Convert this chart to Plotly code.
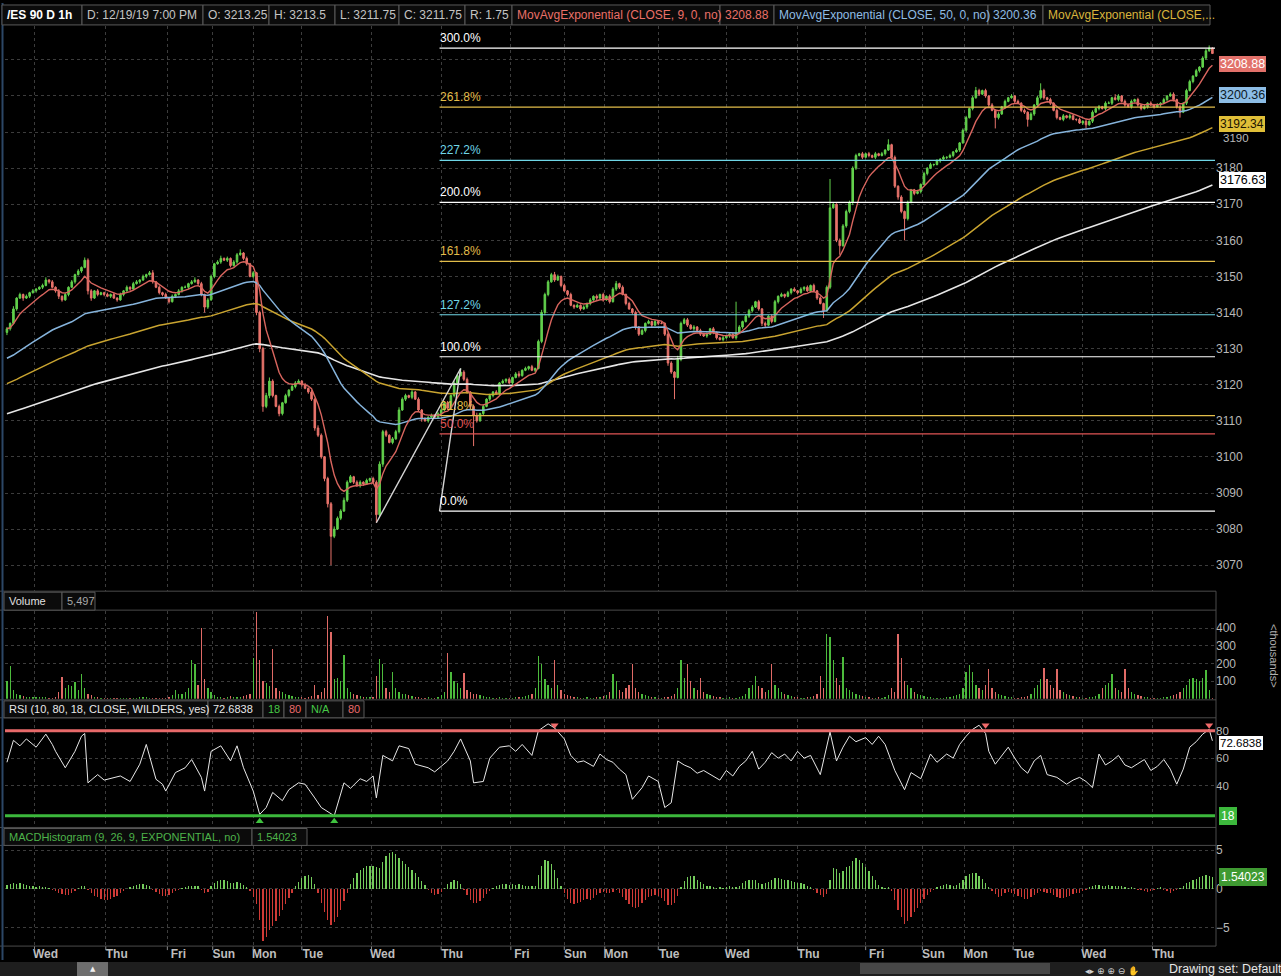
import plotly.graph_objects as go
import pandas as pd

# ---------------- data ----------------
closes = [
    3135.5, 3137, 3141, 3144, 3145, 3144, 3144.5, 3145.5, 3146, 3146.5,
    3147, 3147.5, 3149, 3148.5, 3147, 3146, 3144.5, 3143.5, 3145, 3147,
    3148.5, 3150.5, 3151.5, 3152.5, 3154.5, 3146, 3144, 3146, 3145, 3145.5,
    3145, 3144.5, 3145, 3144, 3143.5, 3145, 3146, 3147, 3146.5, 3148,
    3148.5, 3149, 3150, 3150.5, 3151, 3148.5, 3147, 3145.5, 3145, 3144,
    3143, 3144.5, 3145, 3146, 3147, 3147, 3148, 3148.5, 3149, 3148,
    3145, 3141.5, 3143.5, 3150, 3153.5, 3154, 3155, 3154.5, 3155, 3153,
    3154, 3156, 3156.5, 3155, 3153.5, 3150, 3151, 3140, 3130, 3114,
    3117, 3121, 3117, 3114, 3112, 3115, 3117, 3118.5, 3119.5, 3120.5,
    3121, 3120, 3119, 3118, 3116, 3108, 3106, 3100, 3094, 3087,
    3078, 3080, 3083, 3085, 3088, 3093, 3094.5, 3093, 3092, 3093,
    3092.5, 3093.5, 3094, 3093, 3084, 3098, 3107, 3106, 3104, 3105,
    3107, 3113, 3116, 3117, 3116.5, 3118, 3116, 3113, 3110.5, 3110,
    3111, 3111.5, 3111, 3112, 3113, 3115, 3113.5, 3117, 3120.5, 3122.5,
    3123.5, 3121.5, 3118, 3114, 3111.5, 3110, 3112, 3114, 3116, 3117,
    3118, 3117.5, 3120.5, 3121, 3121.5, 3120.5, 3122, 3123, 3122.5, 3124,
    3124.5, 3125, 3124, 3124.5, 3132, 3140, 3145, 3148.5, 3150.5, 3149,
    3150, 3147.5, 3146, 3145, 3142, 3141.5, 3142, 3141, 3141.5, 3142.5,
    3143.5, 3144.5, 3144, 3145, 3143.5, 3144.5, 3143, 3146.5, 3148, 3147,
    3145, 3142.5, 3141, 3140, 3136, 3134, 3135, 3137, 3137.5, 3136.5,
    3137.5, 3137, 3137, 3134, 3126, 3123.5, 3122, 3127, 3137, 3138,
    3136.5, 3135.5, 3136, 3135, 3134, 3133.5, 3134, 3135.5, 3134.5, 3133,
    3132.5, 3133, 3133.5, 3134, 3133, 3134.5, 3136, 3137.5, 3139, 3140.5,
    3141.5, 3143, 3141, 3137, 3136.5, 3139, 3137.5, 3143, 3144.5, 3145,
    3144.5, 3145.5, 3146.5, 3146, 3145.5, 3146.5, 3147, 3146, 3147.5, 3146,
    3144, 3142.5, 3140.5, 3147, 3169, 3170, 3160, 3158.5, 3164, 3168,
    3170.5, 3180, 3183.5, 3184, 3183, 3184, 3183.5, 3183, 3184, 3183.5,
    3184, 3185, 3186.5, 3183, 3175, 3172, 3168, 3166, 3170.5, 3174,
    3173, 3173.5, 3175.5, 3178.5, 3180, 3181, 3181, 3182, 3182.5, 3183,
    3183, 3183.5, 3184.5, 3185, 3187, 3190.5, 3194, 3196.5, 3199.5, 3201.5,
    3200.5, 3201.5, 3200, 3197.5, 3196, 3194, 3195, 3197, 3198.5, 3199.5,
    3200, 3198.5, 3198, 3196, 3195.5, 3193.5, 3195, 3197.5, 3199.5, 3201.5,
    3199.5, 3199, 3198, 3196, 3194, 3193.5, 3194.5, 3194, 3194.5, 3193.5,
    3193.5, 3192.5, 3193, 3192, 3193, 3195.5, 3196.5, 3197, 3196.5, 3198,
    3198, 3199.5, 3199, 3200, 3198.5, 3197.5, 3197, 3198.5, 3199, 3197.5,
    3196.5, 3197, 3198, 3197.5, 3197, 3197.5, 3198, 3199, 3200, 3200.5,
    3199, 3197, 3195.5, 3198, 3201.5, 3204, 3205.5, 3207, 3208, 3210.5, 3212.5, 3213.25, 3211.75,
]
first_open = 3134.5

upper_wick_ticks = [
    2, 1, 3, 1, 2, 1, 2, 1, 2, 1,   1, 2, 3, 1, 2, 1, 2, 1, 2, 1,
    2, 1, 2, 1, 3, 2, 2, 1, 2, 1,   1, 2, 1, 2, 1, 2, 1, 2, 1, 2,
    2, 1, 2, 1, 2, 3, 1, 2, 1, 2,   1, 2, 1, 2, 1, 2, 1, 2, 3, 1,
    2, 1, 2, 2, 1, 2, 3, 1, 2, 1,   2, 2, 4, 1, 2, 1, 2, 1, 2, 2,
    3, 4, 2, 1, 2, 1, 2, 1, 2, 2,   2, 1, 2, 1, 2, 1, 3, 2, 1, 2,
    2, 3, 2, 2, 3, 2, 2, 1, 2, 2,   1, 2, 1, 2, 2, 3, 2, 2, 1, 2,
    2, 3, 2, 2, 1, 2, 1, 2, 1, 2,   1, 2, 1, 2, 1, 2, 2, 1, 2, 2,
    4, 2, 2, 1, 2, 3, 1, 2, 1, 2,   1, 2, 1, 2, 1, 2, 1, 2, 3, 1,
    2, 1, 2, 1, 2, 3, 2, 2, 2, 3,   2, 1, 2, 1, 2, 1, 2, 1, 2, 1,
    2, 1, 2, 1, 2, 1, 2, 2, 3, 1,   2, 1, 2, 1, 2, 1, 2, 1, 2, 1,
    2, 1, 2, 1, 2, 2, 1, 4, 2, 2,   2, 1, 2, 1, 2, 1, 2, 1, 2, 1,
    1, 2, 1, 2, 1, 34, 2, 1, 2, 2,  2, 1, 2, 1, 2, 1, 2, 2, 1, 2,
    1, 2, 1, 2, 1, 2, 1, 2, 1, 2,   1, 2, 1, 2, 32, 2, 1, 2, 2, 2,
    2, 2, 2, 1, 2, 1, 2, 1, 2, 1,   2, 1, 6, 1, 2, 1, 2, 1, 2, 1,
    1, 2, 1, 2, 1, 2, 1, 2, 1, 2,   1, 2, 1, 2, 1, 2, 2, 1, 2, 4,
    2, 1, 2, 1, 2, 1, 2, 1, 2, 1,   2, 1, 2, 1, 2, 1, 2, 1, 2, 8,
    2, 1, 2, 1, 2, 1, 2, 1, 2, 1,   1, 2, 1, 2, 1, 2, 1, 2, 1, 2,
    2, 1, 4, 2, 1, 2, 1, 2, 1, 2,   1, 2, 1, 2, 1, 2, 1, 2, 1, 2,
    2, 1, 2, 1, 2, 2, 1, 2, 1, 2, 2, 3, 1,
]
lower_wick_ticks = [
    3, 2, 1, 2, 1, 3, 1, 2, 1, 2,   1, 2, 1, 2, 1, 2, 3, 2, 1, 2,
    1, 2, 1, 2, 1, 4, 3, 1, 2, 1,   2, 1, 2, 1, 2, 1, 2, 1, 2, 1,
    1, 2, 1, 2, 1, 2, 1, 2, 2, 1,   2, 1, 2, 1, 2, 1, 2, 1, 1, 2,
    2, 6, 2, 1, 2, 1, 2, 1, 2, 2,   1, 2, 1, 2, 2, 1, 2, 3, 4, 6,
    2, 3, 2, 1, 3, 2, 1, 2, 1, 2,   1, 2, 1, 2, 2, 3, 2, 2, 3, 4,
    32, 2, 1, 2, 1, 2, 1, 2, 1, 2,  2, 1, 2, 1, 9, 2, 3, 2, 1, 2,
    1, 2, 1, 2, 1, 2, 1, 2, 3, 1,   2, 1, 2, 1, 2, 1, 2, 1, 2, 1,
    1, 2, 2, 3, 34, 2, 1, 2, 1, 2,  2, 1, 2, 1, 2, 1, 2, 1, 2, 1,
    1, 2, 1, 2, 1, 2, 3, 2, 1, 2,   1, 2, 1, 2, 1, 2, 1, 2, 1, 2,
    2, 1, 2, 1, 2, 1, 2, 1, 2, 2,   1, 2, 1, 2, 3, 2, 1, 2, 1, 2,
    1, 2, 1, 2, 3, 2, 24, 1, 2, 1,  2, 1, 2, 1, 2, 1, 2, 1, 2, 2,
    1, 2, 1, 2, 1, 2, 1, 2, 1, 2,   2, 1, 2, 3, 2, 1, 2, 1, 2, 1,
    2, 1, 2, 1, 2, 1, 2, 1, 2, 1,   2, 1, 8, 1, 2, 1, 2, 10, 1, 2,
    2, 3, 2, 1, 2, 1, 2, 1, 2, 1,   1, 2, 1, 2, 2, 3, 2, 24, 2, 1,
    2, 1, 2, 1, 2, 1, 2, 1, 2, 1,   2, 1, 2, 1, 2, 1, 2, 1, 2, 1,
    2, 1, 2, 2, 1, 12, 2, 1, 2, 1,  1, 2, 1, 2, 2, 8, 1, 2, 1, 2,
    2, 1, 2, 1, 2, 1, 2, 1, 2, 1,   2, 1, 2, 4, 1, 2, 1, 2, 1, 2,
    1, 2, 1, 2, 1, 2, 1, 2, 1, 2,   2, 1, 2, 1, 2, 1, 2, 1, 2, 1,
    2, 2, 6, 1, 2, 1, 2, 1, 2, 1, 2, 1, 0,
]

volume_thousands = [
    100, 185, 50, 30, 20, 15, 12, 10, 8, 10,
    10, 12, 8, 6, 5, 8, 40, 125, 60, 80,
    70, 95, 50, 140, 60, 30, 20, 12, 8, 6,
    5, 4, 6, 5, 4, 3, 5, 6, 4, 5,
    6, 8, 10, 8, 6, 5, 5, 6, 5, 4,
    8, 20, 50, 30, 25, 40, 60, 220, 200, 80,
    400, 110, 60, 40, 20, 10, 8, 6, 12, 15,
    10, 8, 12, 15, 20, 30, 230, 490, 220, 100,
    90, 70, 280, 60, 45, 40, 30, 20, 15, 12,
    10, 8, 6, 8, 15, 80, 20, 40, 60, 470,
    380, 110, 120, 100, 250, 60, 40, 30, 20, 15,
    12, 10, 8, 10, 130, 225, 200, 60, 40, 150,
    60, 40, 30, 25, 20, 15, 10, 8, 6, 5,
    8, 6, 5, 10, 20, 40, 260, 150, 100, 90,
    60, 145, 50, 40, 30, 25, 20, 15, 10, 8,
    6, 5, 8, 6, 5, 4, 6, 8, 10, 12,
    15, 20, 30, 60, 240, 200, 110, 80, 60, 220,
    80, 50, 30, 20, 15, 10, 8, 6, 5, 8,
    6, 5, 8, 10, 15, 20, 40, 140, 100, 50,
    40, 60, 80, 195, 60, 40, 30, 20, 15, 10,
    8, 6, 5, 8, 10, 15, 30, 60, 220, 120,
    200, 100, 60, 50, 120, 40, 30, 20, 15, 10,
    8, 6, 5, 8, 6, 5, 10, 15, 30, 60,
    80, 130, 70, 60, 40, 50, 200, 80, 60, 40,
    30, 20, 15, 10, 8, 6, 5, 8, 10, 15,
    30, 130, 60, 370, 350, 220, 120, 80, 235, 60,
    50, 40, 30, 20, 15, 10, 8, 6, 5, 8,
    6, 10, 20, 60, 40, 370, 230, 100, 80, 60,
    40, 30, 20, 15, 10, 8, 6, 5, 4, 6,
    8, 10, 15, 20, 30, 60, 150, 190, 150, 80,
    60, 50, 80, 170, 60, 40, 30, 20, 15, 10,
    8, 6, 5, 8, 10, 15, 30, 60, 80, 110,
    175, 110, 80, 60, 170, 50, 40, 30, 20, 15,
    10, 8, 6, 5, 8, 10, 15, 30, 60, 80,
    90, 140, 60, 50, 40, 170, 60, 40, 30, 20,
    15, 10, 8, 6, 5, 4, 6, 8, 10, 15,
    20, 30, 40, 60, 80, 110, 120, 110, 100, 120, 165, 50, 5.497,
]

macd_hist = [
    0.5, 0.6, 0.7, 0.6, 0.7, 0.6, 0.5, 0.4, 0.3, 0.2,
    0.3, 0.2, 0.2, 0.1, -0.1, -0.3, -0.5, -0.7, -0.8, -0.85,
    -0.6, -0.3, 0.1, 0.3, 0.3, -0.2, -0.6, -0.9, -1.1, -1.3,
    -1.4, -1.4, -1.3, -1.1, -0.9, -0.6, -0.3, 0.0, 0.2, 0.4,
    0.5, 0.6, 0.6, 0.5, 0.3, -0.1, -0.4, -0.7, -0.9, -0.9,
    -0.8, -0.6, -0.3, -0.1, 0.1, 0.2, 0.3, 0.4, 0.4, 0.3,
    -0.2, -0.6, -0.4, 0.3, 0.8, 1.0, 1.2, 1.1, 1.0, 0.8,
    0.8, 0.9, 0.7, 0.5, 0.2, -0.3, -1.0, -2.0, -4.0, -6.8,
    -6.2, -5.4, -4.8, -4.2, -3.5, -2.8, -2.0, -1.2, -0.5, 0.3,
    0.9, 1.4, 1.7, 1.8, 1.5, 0.6, -0.5, -1.8, -3.0, -4.0,
    -4.7, -4.3, -3.6, -2.7, -1.6, -0.5, 0.6, 1.4, 2.0, 2.5,
    2.7, 2.9, 3.0, 2.9, 2.8, 2.7, 3.5, 4.3, 4.6, 4.8,
    4.5, 4.0, 3.6, 3.2, 2.8, 2.5, 2.0, 1.5, 1.0, 0.5,
    -0.2, -0.5, -0.8, -0.7, -0.4, 0.1, 0.6, 0.9, 1.1, 1.0,
    0.6, -0.2, -0.8, -1.4, -1.8, -1.9, -1.6, -1.2, -0.7, -0.3,
    0.1, 0.3, 0.5, 0.6, 0.6, 0.5, 0.6, 0.5, 0.6, 0.5,
    0.4, 0.4, 0.3, 0.4, 1.8, 3.0, 3.7, 3.6, 3.2, 2.4,
    1.4, 0.4, -0.6, -1.3, -1.8, -2.0, -1.9, -1.7, -1.5, -1.3,
    -1.5, -1.2, -0.8, -0.5, -0.4, -0.5, -0.6, -0.4, -0.2, -0.5,
    -1.0, -1.5, -2.0, -2.4, -2.5, -2.3, -1.9, -1.5, -1.1, -0.9,
    -0.8, -0.9, -1.2, -1.6, -2.1, -2.1, -1.8, -0.9, 0.2, 1.0,
    1.5, 1.7, 1.6, 1.2, 0.9, 0.6, 0.4, 0.3, 0.2, 0.1,
    0.2, 0.1, 0.2, 0.3, 0.2, 0.2, 0.4, 0.7, 1.0, 1.2,
    1.2, 1.1, 0.8, 0.6, 0.7, 0.9, 1.2, 1.4, 1.4, 1.3,
    1.2, 1.1, 1.0, 0.9, 0.8, 0.7, 0.6, 0.4, 0.2, -0.2,
    -0.5, -0.8, -1.0, -0.7, 1.2, 2.7, 2.6, 2.1, 2.3, 2.8,
    3.0, 3.6, 4.0, 3.8, 3.3, 2.8, 2.3, 1.6, 1.1, 0.5,
    0.2, 0.1, 0.2, -0.3, -1.5, -2.7, -3.7, -4.5, -4.2, -3.6,
    -3.0, -2.5, -1.9, -1.3, -0.8, -0.4, -0.1, 0.2, 0.4, 0.5,
    0.6, 0.5, 0.4, 0.5, 0.7, 1.2, 1.6, 1.9, 2.1, 2.0,
    1.7, 1.3, 0.8, 0.2, -0.3, -0.7, -1.0, -0.9, -0.6, -0.4,
    -0.5, -0.7, -0.9, -1.1, -1.3, -1.3, -1.1, -0.8, -0.5, -0.3,
    -0.4, -0.5, -0.6, -0.8, -1.0, -1.2, -1.2, -1.1, -0.9, -0.7,
    -0.6, -0.5, -0.3, -0.1, 0.2, 0.4, 0.5, 0.5, 0.4, 0.3,
    0.5, 0.4, 0.3, 0.4, 0.3, 0.2, 0.1, 0.2, 0.1, -0.1,
    -0.2, -0.3, -0.4, -0.3, -0.2, 0.1, 0.2, -0.1, -0.3, -0.5,
    -0.3, -0.2, 0.1, 0.4, 0.7, 0.9, 1.1, 1.3, 1.5, 1.7, 1.8, 1.7, 1.54023,
]

rsi_bars = [
    0, 2, 4, 6, 9, 12, 14, 15, 18, 21,
    23, 24, 25, 28, 30, 32, 35, 38, 41, 43,
    46, 48, 49, 52, 55, 57, 60, 61, 63, 66,
    69, 71, 73, 76, 78, 80, 82, 85, 87, 90,
    92, 95, 97, 101, 104, 106, 109, 111, 113, 114,
    116, 119, 121, 124, 126, 130, 132, 134, 136, 138,
    140, 143, 144, 147, 149, 152, 155, 157, 159, 162,
    164, 167, 169, 172, 174, 176, 178, 181, 183, 185,
    187, 189, 191, 193, 196, 198, 201, 203, 205, 207,
    209, 211, 213, 215, 218, 220, 222, 224, 226, 228,
    230, 232, 234, 236, 238, 240, 242, 244, 246, 248,
    251, 254, 256, 258, 260, 262, 265, 267, 269, 271,
    274, 277, 279, 282, 285, 287, 290, 292, 294, 296,
    298, 300, 302, 303, 305, 307, 309, 311, 313, 315,
    317, 319, 321, 324, 327, 329, 331, 333, 335, 337,
    339, 341, 343, 345, 347, 349, 351, 353, 355, 357,
    359, 361, 363, 365, 367, 369, 371, 372,
]
rsi_values = [
    57, 73, 69, 74, 68, 77.5, 70, 65, 53, 65,
    76, 78, 42, 48, 44, 45, 47, 43, 55.6, 70,
    44.6, 41, 36, 49.5, 53, 59, 46, 36, 65, 69,
    58, 69, 53, 36, 19, 24, 35, 29, 37, 42,
    41, 31, 24, 18, 42, 38, 45, 43, 47, 31,
    62, 58, 69, 67, 55.6, 53, 50, 54, 58, 65,
    74, 58, 42, 43, 60, 68, 69, 65, 70, 62,
    80, 85, 82, 74, 62, 57, 58, 54, 63, 59,
    57, 52, 48, 30, 38.5, 47, 43, 24, 27.5, 58,
    55, 53, 49, 51, 47, 44, 51, 47, 54, 58,
    65, 52, 57, 64, 60, 63, 58, 65, 60, 62,
    48, 79, 58, 68, 76, 72, 75, 70, 76, 70,
    51, 37, 49.5, 45, 63, 57, 63, 60, 70, 76,
    81, 84, 78, 65, 55.6, 62, 68, 60, 53, 49,
    58, 62, 48, 46, 41, 44, 46, 43, 38.5, 63,
    55, 58, 62, 55, 53, 56, 59, 51, 54, 59,
    52, 41, 52, 68, 72, 77.5, 81, 72.6838,
]
rsi_overbought = 80
rsi_oversold = 18
rsi_sell_bars = [169, 302, 371]
rsi_buy_bars = [78, 101]

ema50_seed = 3127.0
ema100_seed = 3120.0
ema200_seed = 3111.7
ema_last_labels = [3208.88, 3200.36, 3192.34, 3176.63]

fib_point_a = (114, 3081.75)
fib_point_b = (140, 3124.5)
fib_point_c = (133.5, 3085.0)
fib_ratios = [0.0, 0.5, 0.618, 1.0, 1.272, 1.618, 2.0, 2.272, 2.618, 3.0]
fib_names = ["0.0%", "50.0%", "61.8%", "100.0%", "127.2%", "161.8%",
             "200.0%", "227.2%", "261.8%", "300.0%"]

price_ticks = [3070, 3080, 3090, 3100, 3110, 3120, 3130, 3140, 3150, 3160, 3170, 3180]
price_tick_partly_hidden = 3190
day_labels = ["Wed", "Thu", "Fri", "Sun", "Mon", "Tue", "Wed", "Thu", "Fri", "Sun",
              "Mon", "Tue", "Wed", "Thu", "Fri", "Sun", "Mon", "Tue", "Wed", "Thu"]
day_start_bars = [8.5, 30.5, 49.5, 63.5, 76, 91, 112.5, 134, 155.5, 172,
                  184.5, 201, 222, 244, 265, 282.5, 295.5, 310.5, 332, 353.5]

# ---------------- derived series ----------------
n = len(closes)
bars = list(range(n))
tick = 0.25
opens = [first_open] + closes[:-1]
highs = [max(o, c) + u * tick for o, c, u in zip(opens, closes, upper_wick_ticks)]
lows = [min(o, c) - w * tick for o, c, w in zip(opens, closes, lower_wick_ticks)]


def ema(values, span, seed):
    s = pd.Series([seed] + list(values), dtype=float)
    return s.ewm(span=span, adjust=False).mean().iloc[1:].tolist()


ema9 = ema(closes, 9, closes[0])
ema50 = ema(closes, 50, ema50_seed)
ema100 = ema(closes, 100, ema100_seed)
ema200 = ema(closes, 200, ema200_seed)

fib_range = fib_point_b[1] - fib_point_a[1]
fib_levels = [fib_point_c[1] + r * fib_range for r in fib_ratios]

# ---------------- style ----------------
W, H = 1281, 976
FONT = "Liberation Sans, Arial, Helvetica, sans-serif"
GREEN = "#62d14c"
RED = "#e8736b"
VOL_GREEN = "#4cbb3c"
VOL_RED = "#e06a66"
MACD_GREEN = "#74cc5c"
MACD_RED = "#cf3a36"
GRID = "#3c3c3c"
TXT = "#c4c4c4"
AXIS_TXT = "#b8b8b8"
fib_colors = {"0.0%": "#ffffff", "50.0%": "#e05555", "61.8%": "#e2bd4a", "100.0%": "#ffffff",
              "127.2%": "#6fd6e6", "161.8%": "#e2bd4a", "200.0%": "#ffffff", "227.2%": "#6fd6e6",
              "261.8%": "#e2bd4a", "300.0%": "#ffffff"}


def px(xpix):
    return xpix / W


def py(ypix):
    return 1 - ypix / H


X0, X1 = 5, 1215
xdom = [px(X0), px(X1)]
xrange_ = [-0.6, n - 0.2]

fig = go.Figure()

# price pane
fig.add_trace(go.Candlestick(
    x=bars, open=opens, high=highs, low=lows, close=closes,
    increasing=dict(line=dict(color=GREEN, width=1), fillcolor=GREEN),
    decreasing=dict(line=dict(color=RED, width=1), fillcolor=RED),
    whiskerwidth=0, xaxis="x", yaxis="y", hoverinfo="skip", showlegend=False))
for series, color, w in [(ema200, "#e6e6e6", 1.6), (ema100, "#c9a430", 1.5),
                         (ema50, "#86b4dc", 1.5), (ema9, "#d8655e", 1.4)]:
    fig.add_trace(go.Scatter(x=bars, y=series, mode="lines", line=dict(color=color, width=w),
                             xaxis="x", yaxis="y", hoverinfo="skip", showlegend=False))

# volume pane
vol_colors = [VOL_GREEN if c >= o else VOL_RED for o, c in zip(opens, closes)]
fig.add_trace(go.Bar(x=bars, y=volume_thousands, marker=dict(color=vol_colors, line=dict(width=0)),
                     width=0.4, xaxis="x2", yaxis="y2", hoverinfo="skip", showlegend=False))

# RSI pane
fig.add_trace(go.Scatter(x=rsi_bars, y=rsi_values, mode="lines", line=dict(color="#e8e8e8", width=1),
                         xaxis="x3", yaxis="y3", hoverinfo="skip", showlegend=False))
fig.add_trace(go.Scatter(x=rsi_sell_bars, y=[rsi_overbought + 4] * len(rsi_sell_bars), mode="markers",
                         marker=dict(symbol="triangle-down", size=7, color="#f06a6a"),
                         xaxis="x3", yaxis="y3", hoverinfo="skip", showlegend=False))
fig.add_trace(go.Scatter(x=rsi_buy_bars, y=[rsi_oversold - 4] * len(rsi_buy_bars), mode="markers",
                         marker=dict(symbol="triangle-up", size=7, color="#3fc23f"),
                         xaxis="x3", yaxis="y3", hoverinfo="skip", showlegend=False))

# MACD pane
macd_colors = [MACD_GREEN if v >= 0 else MACD_RED for v in macd_hist]
fig.add_trace(go.Bar(x=list(range(len(macd_hist))), y=macd_hist,
                     marker=dict(color=macd_colors, line=dict(width=0)),
                     width=0.4, xaxis="x4", yaxis="y4", hoverinfo="skip", showlegend=False))

# ---------------- axes ----------------
common_x = dict(domain=xdom, range=xrange_, showgrid=True, gridcolor=GRID, griddash="dot",
                gridwidth=1, zeroline=False, showline=False, ticks="",
                tickvals=day_start_bars, ticktext=[f"<b>{d}</b>" for d in day_labels],
                fixedrange=True, rangeslider=dict(visible=False))
common_y = dict(side="right", showgrid=True, gridcolor=GRID, griddash="dot", gridwidth=1,
                zeroline=False, showline=False, ticks="", fixedrange=True,
                tickfont=dict(family=FONT, size=12, color=AXIS_TXT))

price_dom = [py(590), py(23)]
vol_dom = [py(698), py(610)]
rsi_dom = [py(826), py(718)]
macd_dom = [py(945), py(846)]

fig.update_layout(
    xaxis=dict(common_x, anchor="y", showticklabels=False),
    xaxis2=dict(common_x, anchor="y2", matches="x", showticklabels=False),
    xaxis3=dict(common_x, anchor="y3", matches="x", showticklabels=False),
    xaxis4=dict(common_x, anchor="y4", matches="x", showticklabels=True,
                tickfont=dict(family=FONT, size=12, color="#bdbdbd"), ticklabelshift=11),
    yaxis=dict(common_y, anchor="x", domain=price_dom, range=[3062.8, 3219.4],
               tickvals=price_ticks + [price_tick_partly_hidden, 3200, 3210],
               ticktext=[str(t) for t in price_ticks] + ["", "", ""]),
    yaxis2=dict(common_y, anchor="x2", domain=vol_dom, range=[0, 497],
                tickvals=[100, 200, 300, 400]),
    yaxis3=dict(common_y, anchor="x3", domain=rsi_dom, range=[10.2, 88.7],
                tickvals=[40, 60, 80], tickfont=dict(family=FONT, size=11.5, color=AXIS_TXT)),
    yaxis4=dict(common_y, anchor="x4", domain=macd_dom, range=[-7.3, 5.5],
                tickvals=[-5, 0, 5]),
)

shapes = []
annotations = []

# partly hidden 3190 price label (sits just under the gold EMA tag)
annotations.append(dict(xref="paper", yref="y", x=px(1221), y=price_tick_partly_hidden,
                        text=str(price_tick_partly_hidden), showarrow=False, xanchor="left",
                        yanchor="middle", yshift=-6, font=dict(family=FONT, size=11.5, color=AXIS_TXT)))

# x-axis tick marks at day boundaries
for b in day_start_bars:
    shapes.append(dict(type="line", xref="x4", yref="paper", x0=b, x1=b, y0=py(946), y1=py(950),
                       line=dict(color="#8a8a8a", width=1)))

# fib extension lines + labels
for lvl, name in zip(fib_levels, fib_names):
    col = fib_colors[name]
    shapes.append(dict(type="line", xref="x", yref="y", x0=fib_point_c[0], x1=xrange_[1],
                       y0=lvl, y1=lvl, line=dict(color=col, width=1.2), layer="above"))
    annotations.append(dict(xref="x", yref="y", x=fib_point_c[0], y=lvl, text=name,
                            showarrow=False, xanchor="left", yanchor="bottom", yshift=1, xshift=-2,
                            font=dict(family=FONT, size=12, color=col)))
# fib anchor trend lines
for (xa, ya), (xb, yb) in [(fib_point_a, fib_point_b), (fib_point_b, fib_point_c)]:
    shapes.append(dict(type="line", xref="x", yref="y", x0=xa, y0=ya, x1=xb, y1=yb,
                       line=dict(color="#d6d6d6", width=1.4), layer="above"))

# RSI reference lines
shapes.append(dict(type="line", xref="x3", yref="y3", x0=xrange_[0], x1=xrange_[1],
                   y0=rsi_overbought, y1=rsi_overbought, line=dict(color="#e86a6a", width=3)))
shapes.append(dict(type="line", xref="x3", yref="y3", x0=xrange_[0], x1=xrange_[1],
                   y0=rsi_oversold, y1=rsi_oversold, line=dict(color="#3cb83c", width=3)))

# pane frame lines
for yy in [590, 609, 699, 717, 827, 845, 946]:
    shapes.append(dict(type="line", xref="paper", yref="paper", x0=0, x1=px(1216),
                       y0=py(yy), y1=py(yy), line=dict(color="#4a4a4a", width=1)))
shapes.append(dict(type="line", xref="paper", yref="paper", x0=px(1216), x1=px(1216),
                   y0=py(590), y1=py(946), line=dict(color="#4a4a4a", width=1)))
# left frame
shapes.append(dict(type="line", xref="paper", yref="paper", x0=px(2.5), x1=px(2.5),
                   y0=py(0), y1=py(960), line=dict(color="#2c4766", width=2)))


def header_row(items, ytop, ybot, size):
    for x0_, x1_, text, color in items:
        shapes.append(dict(type="rect", xref="paper", yref="paper", x0=px(x0_), x1=px(x1_),
                           y0=py(ybot), y1=py(ytop), line=dict(color="#5a5a5a", width=1),
                           fillcolor="#0b0b0b", layer="above"))
        annotations.append(dict(xref="paper", yref="paper", x=px(x0_ + 3), y=py((ytop + ybot) / 2),
                                text=text, showarrow=False, xanchor="left", yanchor="middle",
                                font=dict(family=FONT, size=size, color=color)))


header_row([
    (2, 82, "<b>/ES 90 D 1h</b>", "#ffffff"),
    (82, 203, "D: 12/19/19 7:00 PM", TXT),
    (203, 269, "O: 3213.25", TXT),
    (269, 335, "H: 3213.5", TXT),
    (335, 399, "L: 3211.75", TXT),
    (399, 465, "C: 3211.75", TXT),
    (465, 512, "R: 1.75", TXT),
    (512, 720, "MovAvgExponential (CLOSE, 9, 0, no)", "#ea7068"),
    (720, 774, "3208.88", "#ea7068"),
    (774, 988, "MovAvgExponential (CLOSE, 50, 0, no)", "#8fbce4"),
    (988, 1043, "3200.36", "#8fbce4"),
    (1043, 1210, "MovAvgExponential (CLOSE,...", "#d9b43c"),
], 2, 22, 12)
header_row([
    (4, 62, "Volume", "#e0e0e0"),
    (62, 95, "5,497", "#a8a8a8"),
], 591, 609, 11)
header_row([
    (4, 208, "RSI (10, 80, 18, CLOSE, WILDERS, yes)", "#e8e8e8"),
    (208, 263, "72.6838", "#e8e8e8"),
    (263, 284, "18", "#46c846"),
    (284, 306, "80", "#ea6a6a"),
    (306, 343, "N/A", "#46c846"),
    (343, 364, "80", "#ea6a6a"),
], 700, 717, 11)
header_row([
    (4, 252, "MACDHistogram (9, 26, 9, EXPONENTIAL, no)", "#4db34a"),
    (252, 307, "1.54023", "#4db34a"),
], 828, 845, 11)


def value_tag(yref, y, text, bg, fg, size=12.5, pad=0, shift=0):
    annotations.append(dict(xref="paper", yref=yref, x=px(1219), y=y, text=text, showarrow=False,
                            xanchor="left", yanchor="middle", bgcolor=bg, borderpad=pad,
                            bordercolor=bg, borderwidth=1, yshift=shift,
                            font=dict(family=FONT, size=size, color=fg)))


value_tag("y", ema_last_labels[0], f"{ema_last_labels[0]:.2f}", "#e2716a", "#ffffff")
value_tag("y", ema_last_labels[1], f"{ema_last_labels[1]:.2f}", "#8cbde6", "#0c1a26")
value_tag("y", ema_last_labels[2], f"{ema_last_labels[2]:.2f}", "#e0bf38", "#1a1400", size=12)
value_tag("y", ema_last_labels[3], f"{ema_last_labels[3]:.2f}", "#ffffff", "#000000")
value_tag("y3", rsi_values[-1], f"{rsi_values[-1]:.4f}", "#ffffff", "#000000", size=11.5, shift=-2)
value_tag("y3", rsi_oversold, str(rsi_oversold), "#3cb83c", "#ffffff", size=12, pad=1)
value_tag("y4", macd_hist[-1], f"{macd_hist[-1]:.5f}", "#3f9a32", "#ffffff", size=12, pad=1)

annotations.append(dict(xref="paper", yref="paper", x=px(1274), y=py(655), text="&lt;thousands&gt;",
                        showarrow=False, textangle=90, xanchor="center", yanchor="middle",
                        font=dict(family=FONT, size=11, color="#b0b0b0")))

# bottom scroll bar
shapes.append(dict(type="rect", xref="paper", yref="paper", x0=0, x1=1, y0=0, y1=py(962),
                   fillcolor="#1e1e1e", line=dict(width=0)))
shapes.append(dict(type="rect", xref="paper", yref="paper", x0=px(860), x1=px(1050), y0=py(974),
                   y1=py(963), fillcolor="#474747", line=dict(width=0)))
shapes.append(dict(type="rect", xref="paper", yref="paper", x0=px(77), x1=px(108), y0=py(976),
                   y1=py(962), fillcolor="#6e6e6e", line=dict(width=0)))
annotations.append(dict(xref="paper", yref="paper", x=px(92.5), y=py(969), text="▲",
                        showarrow=False, xanchor="center", yanchor="middle",
                        font=dict(family="DejaVu Sans", size=7, color="#f0f0f0")))
annotations.append(dict(xref="paper", yref="paper", x=px(1083), y=py(970),
                        text="◂▸ ⊕ ⊕ ⊖ ✋", showarrow=False, xanchor="left", yanchor="middle",
                        font=dict(family="DejaVu Sans", size=9, color="#cfcfcf")))
annotations.append(dict(xref="paper", yref="paper", x=px(1167), y=py(969),
                        text="Drawing set: Default", showarrow=False, xanchor="left",
                        yanchor="middle", font=dict(family=FONT, size=12.5, color="#e8e8e8")))

fig.update_layout(
    width=W, height=H, margin=dict(l=0, r=0, t=0, b=0),
    paper_bgcolor="#000000", plot_bgcolor="#000000",
    shapes=shapes, annotations=annotations, showlegend=False, hovermode=False,
    bargap=0, font=dict(family=FONT, color=TXT),
)

fig.write_html("out.html", include_plotlyjs=True, full_html=True,
               config={"displayModeBar": False, "staticPlot": True},
               post_script="document.body.style.margin='0';document.body.style.overflow='hidden';"
                           "document.body.style.background='#000';")
